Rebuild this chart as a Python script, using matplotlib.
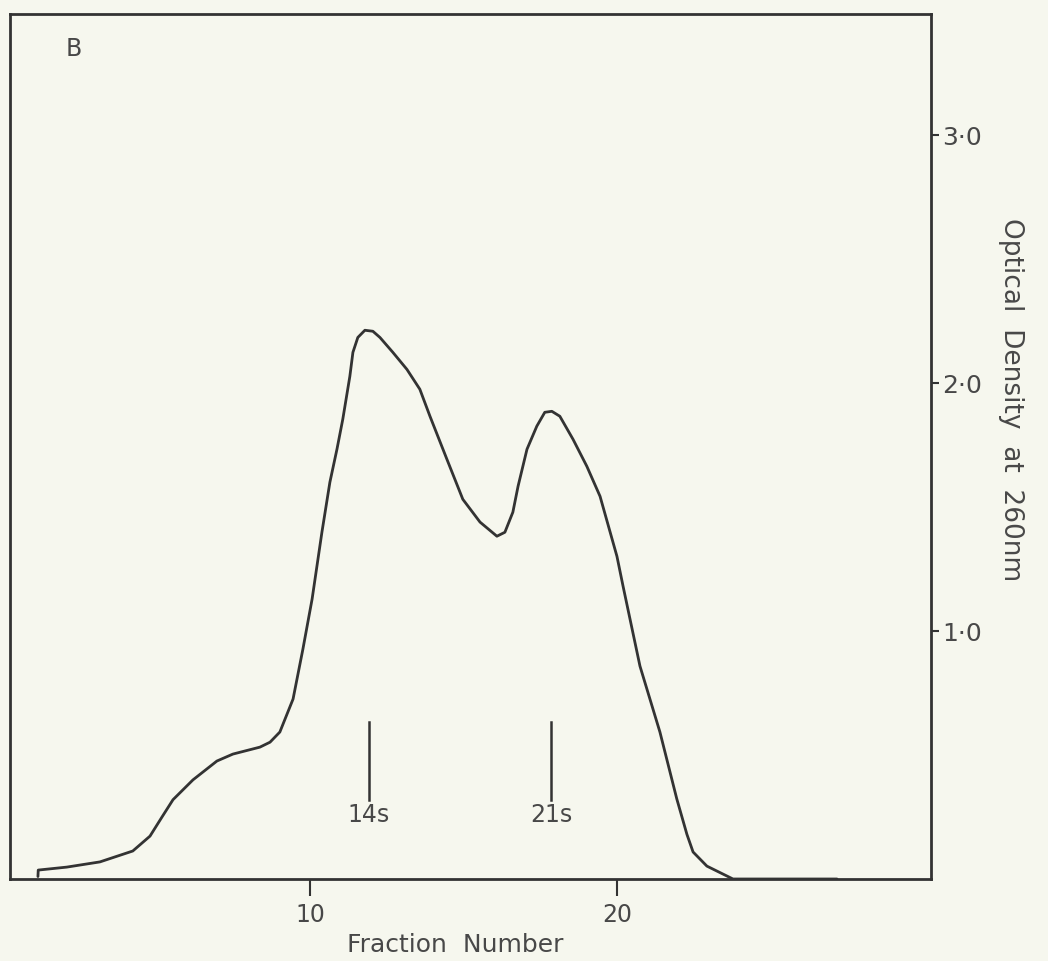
import matplotlib
matplotlib.use("Agg")
import matplotlib.pyplot as plt

# Data (fraction number vs optical density at 260 nm)
fraction = [1.14, 1.15, 2.08, 3.16, 4.23, 4.79, 5.18, 5.54, 6.19, 6.97, 7.49, 8.37,
            8.70, 9.02, 9.45, 9.77, 10.07, 10.39, 10.65, 10.88, 11.07, 11.30, 11.40,
            11.56, 11.79, 12.05, 12.28, 12.70, 13.16, 13.58, 13.91, 14.46, 14.98,
            15.54, 16.09, 16.35, 16.61, 16.78, 17.07, 17.39, 17.65, 17.88, 18.14,
            18.57, 19.02, 19.45, 20.00, 20.20, 20.75, 21.40, 21.95, 22.28, 22.48,
            22.93, 23.78, 27.17]
density = [0.010, 0.036, 0.048, 0.069, 0.113, 0.173, 0.25, 0.32, 0.40, 0.476, 0.504, 0.532,
           0.552, 0.593, 0.726, 0.927, 1.129, 1.399, 1.601, 1.734, 1.855, 2.028, 2.125,
           2.185, 2.214, 2.210, 2.185, 2.125, 2.056, 1.976, 1.867, 1.694, 1.532,
           1.440, 1.383, 1.399, 1.480, 1.585, 1.734, 1.827, 1.883, 1.887, 1.867,
           1.774, 1.665, 1.544, 1.302, 1.181, 0.859, 0.593, 0.323, 0.18, 0.109,
           0.052, 0.0, 0.0]

x_ticks = [10, 20]
x_ticklabels = ["10", "20"]
y_ticks = [1.0, 2.0, 3.0]
y_ticklabels = ["1·0", "2·0", "3·0"]

markers = ["14s", "21s"]
marker_pos = [11.92, 17.85]

bg = "#f6f7ee"
ink = "#333333"
txt = "#484848"

fig = plt.figure(figsize=(10.48, 9.61), dpi=100, facecolor=bg)
ax = fig.add_axes([10 / 1048, (961 - 879) / 961, (931 - 10) / 1048, (879 - 14) / 961])
ax.set_facecolor(bg)

ax.plot(fraction, density, color=ink, lw=2.0, solid_capstyle="round", solid_joinstyle="round")

ax.set_xlim(0.23, 30.23)
ax.set_ylim(0.0, 3.49)

for s in ax.spines.values():
    s.set_color(ink)
    s.set_linewidth(2.0)

ax.set_xticks(x_ticks)
ax.set_xticklabels(x_ticklabels, fontsize=17, color=txt)
ax.tick_params(axis="x", direction="out", length=12, width=1.5, color=ink, pad=5)

ax.yaxis.tick_right()
ax.set_yticks(y_ticks)
ax.set_yticklabels(y_ticklabels, fontsize=18, color=txt)
ax.tick_params(axis="y", direction="out", length=6, width=1.5, color=ink, pad=2,
               left=False, right=True)

ax.set_xlabel("Fraction  Number", fontsize=18, color=txt)
ax.xaxis.set_label_coords((455 - 10) / 921, -0.063)

ax.yaxis.set_label_position("right")
ax.set_ylabel("Optical  Density  at  260nm", fontsize=19, color=txt, rotation=-90)
ax.yaxis.set_label_coords(1.101, (879 - 400) / 865)

ax.text(0.069, 0.96, "B", transform=ax.transAxes, fontsize=17, color=txt,
        ha="center", va="center")

for lab, xp in zip(markers, marker_pos):
    ax.plot([xp, xp], [0.32, 0.635], color=ink, lw=1.8)
    ax.text(xp, 0.26, lab, fontsize=17, color=txt, ha="center", va="center")

fig.savefig("out.png", dpi=100, facecolor=bg)
